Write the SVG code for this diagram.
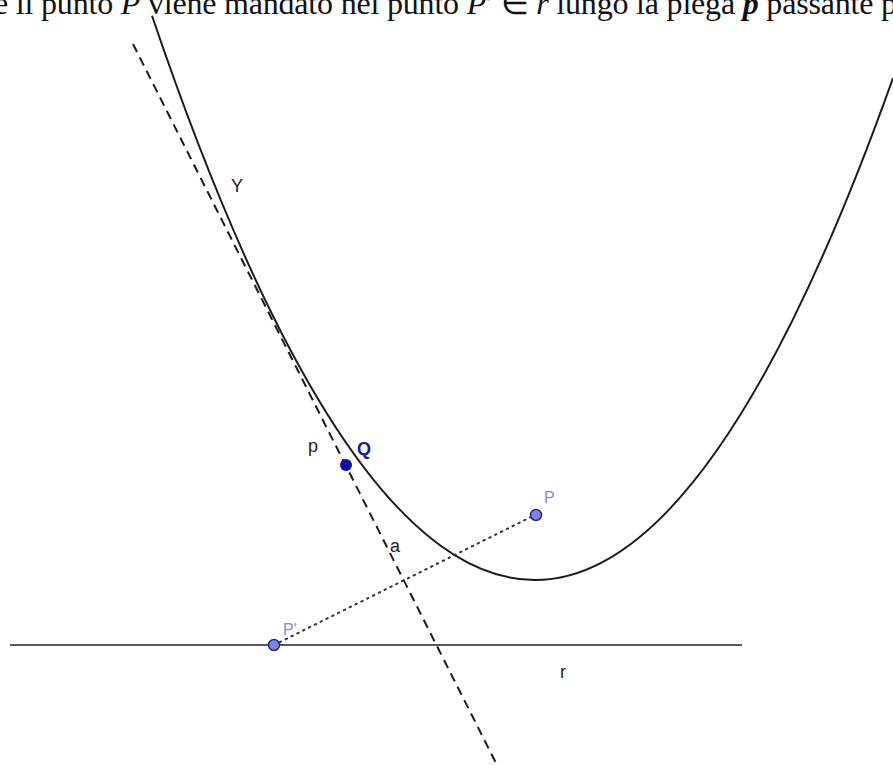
<svg xmlns="http://www.w3.org/2000/svg" width="893" height="765" viewBox="0 0 893 765">
<style>
.lbl{font-family:"Liberation Sans",Arial,sans-serif;font-size:18px;fill:#222}
.title{font-family:"Liberation Serif","Times New Roman",serif;font-size:32px;fill:#111}
.it{font-style:italic}
.pt{fill:#8585de;stroke:#2a2a80;stroke-width:1.5}
</style>
<rect width="893" height="765" fill="#fff"/>
<text class="title" x="-6" y="14" textLength="903">e il punto <tspan class="it">P</tspan> viene mandato nel punto <tspan class="it">P</tspan>′ ∈ <tspan class="it">r</tspan> lungo la piega <tspan class="it" font-weight="bold">p</tspan> passante p</text>
<g id="connectors" fill="none">
<path id="gamma" d="M152,15.8 Q343.5,580 535,580 Q714,580 893,78" stroke="#1a1a1a" stroke-width="2"/>
<line id="r" x1="10" y1="645" x2="742" y2="645" stroke="#222" stroke-width="1.6"/>
<line id="p" x1="133" y1="44" x2="497" y2="765" stroke="#1a1a1a" stroke-width="2" stroke-dasharray="9 6"/>
<line id="a" x1="274" y1="645" x2="535" y2="515" stroke="#333" stroke-width="2" stroke-dasharray="1.5 5" stroke-linecap="round"/>
</g>
<g id="node-Q"><circle cx="346" cy="465" r="6" fill="#1010a0"/><text x="357" y="455" font-family="Liberation Sans,Arial,sans-serif" font-size="18" font-weight="bold" fill="#1a1a90">Q</text></g>
<g id="node-P"><circle class="pt" cx="536" cy="515" r="5.5"/><text x="544" y="503" font-family="Liberation Sans,Arial,sans-serif" font-size="16" fill="#8a8ade">P</text></g>
<g id="node-P1"><circle class="pt" cx="274" cy="645" r="5.5"/><text x="283" y="635" font-family="Liberation Sans,Arial,sans-serif" font-size="16" fill="#8a8ade">P'</text></g>
<g id="labels">
<text class="lbl" x="231" y="192">Y</text>
<text class="lbl" x="308" y="452">p</text>
<text class="lbl" x="390" y="552">a</text>
<text class="lbl" x="560" y="678">r</text>
</g>
</svg>
